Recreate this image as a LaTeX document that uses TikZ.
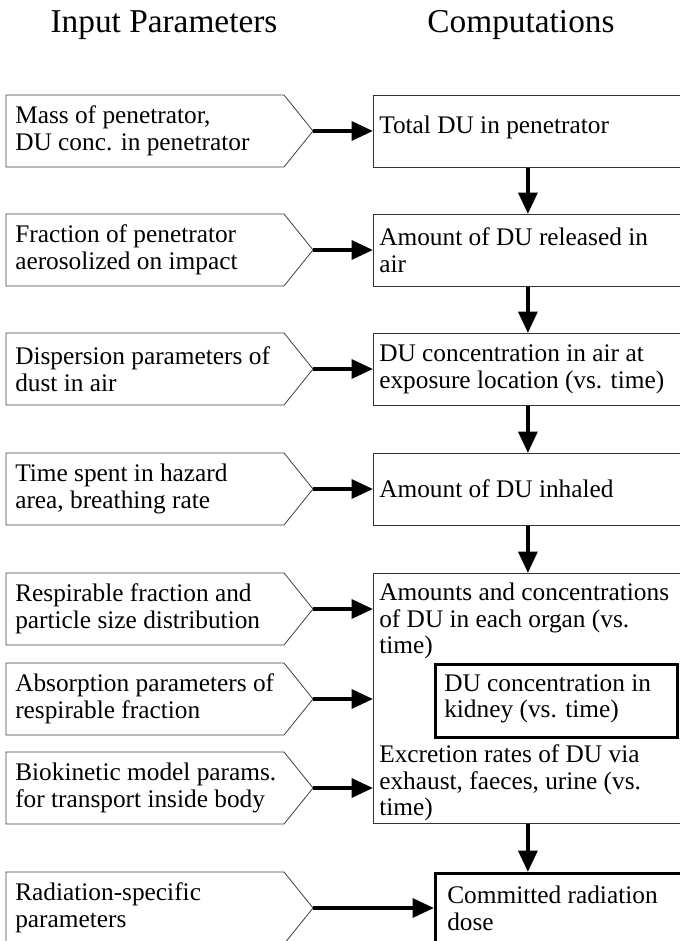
\documentclass[tikz,border=0pt]{standalone}
\usepackage{fontspec}
\setmainfont{Liberation Serif}
\usetikzlibrary{arrows.meta}
\newcommand{\txt}[0]{\fontsize{19}{20}\selectfont}
\newcommand{\inpar}[3]{\draw[parline] (6,#2) -- (284,#2) -- (313,#2+36) -- (284,#2+72) -- (6,#2+72) -- cycle;
	\node[partext] (#1) at (15,#2+36) {#3};
	\coordinate (#1tip) at (313,#2+36)}

\begin{document}
\begin{tikzpicture}[x=0.75pt,y=-0.75pt,
	parline/.style={draw=black!75,line width=0.6pt},
	partext/.style={anchor=west,align=left,inner sep=0pt,font=\txt},
	comp/.style={draw=black!80,line width=0.6pt,anchor=north west,minimum width=231.75pt,
		minimum height=54pt,inner sep=0pt},
	heavy/.style={draw=black,line width=2pt,anchor=north west,minimum height=54.75pt,inner sep=0pt},
	flow/.style={line width=3pt,-{Triangle[length=16pt,width=14pt]}},
	head/.style={anchor=base,font=\fontsize{25}{30}\selectfont}]
	\useasboundingbox (0,0) rectangle (680,941);
	\clip (0,0) rectangle (680,941);
	\node[head] (hin) at (164,33) {Input Parameters};
	\node[head] (hcomp) at (521,33) {Computations};
	\inpar{p1}{95}{Mass of penetrator,\\DU conc. in penetrator};
	\inpar{p2}{214}{Fraction of penetrator\\aerosolized on impact};
	\inpar{p3}{333}{Dispersion parameters of\\dust in air};
	\inpar{p4}{453}{Time spent in hazard\\area, breathing rate};
	\inpar{p5}{573}{Respirable fraction and\\particle size distribution};
	\inpar{p6}{663}{Absorption parameters of\\respirable fraction};
	\inpar{p7}{752}{Biokinetic model params.\\for transport inside body};
	\inpar{p8}{872}{Radiation-specific\\parameters};
	\node[comp] (c1) at (373,95) {};
	\node[partext] (t1) at (379,127) {Total DU in penetrator};
	\node[comp] (c2) at (373,214) {};
	\node[partext] (t2) at (379,250) {Amount of DU released in\\air};
	\node[comp] (c3) at (373,333) {};
	\node[partext] (t3) at (379,369) {DU concentration in air at\\exposure location (vs. time)};
	\node[comp] (c4) at (373,453) {};
	\node[partext] (t4) at (379,489) {Amount of DU inhaled};
	\node[comp,minimum height=187.5pt] (big) at (373,573) {};
	\node[partext] (organ) at (379,621) {Amounts and concentrations\\of DU in each organ (vs.\\time)};
	\node[heavy,minimum width=181.5pt] (kid) at (434,663) {};
	\node[partext] (tkid) at (444,699) {DU concentration in\\kidney (vs. time)};
	\node[partext] (excr) at (379,783) {Excretion rates of DU via\\exhaust, faeces, urine (vs.\\time)};
	\node[heavy,minimum width=186pt] (dose) at (434,872) {};
	\node[partext] (tdose) at (447,908) {Committed radiation\\dose};
	\draw[flow] (p1tip) -- (p1tip -| c1.west);
	\draw[flow] (p2tip) -- (p2tip -| c2.west);
	\draw[flow] (p3tip) -- (p3tip -| c3.west);
	\draw[flow] (p4tip) -- (p4tip -| c4.west);
	\draw[flow] (p5tip) -- (p5tip -| big.west);
	\draw[flow] (p6tip) -- (p6tip -| big.west);
	\draw[flow] (p7tip) -- (p7tip -| big.west);
	\draw[flow] (p8tip) -- (p8tip -| dose.west);
	\draw[flow] (c1.south) -- (c2.north);
	\draw[flow] (c2.south) -- (c3.north);
	\draw[flow] (c3.south) -- (c4.north);
	\draw[flow] (c4.south) -- (big.north);
	\draw[flow] (big.south) -- (big.south |- dose.north);
\end{tikzpicture}
\end{document}
